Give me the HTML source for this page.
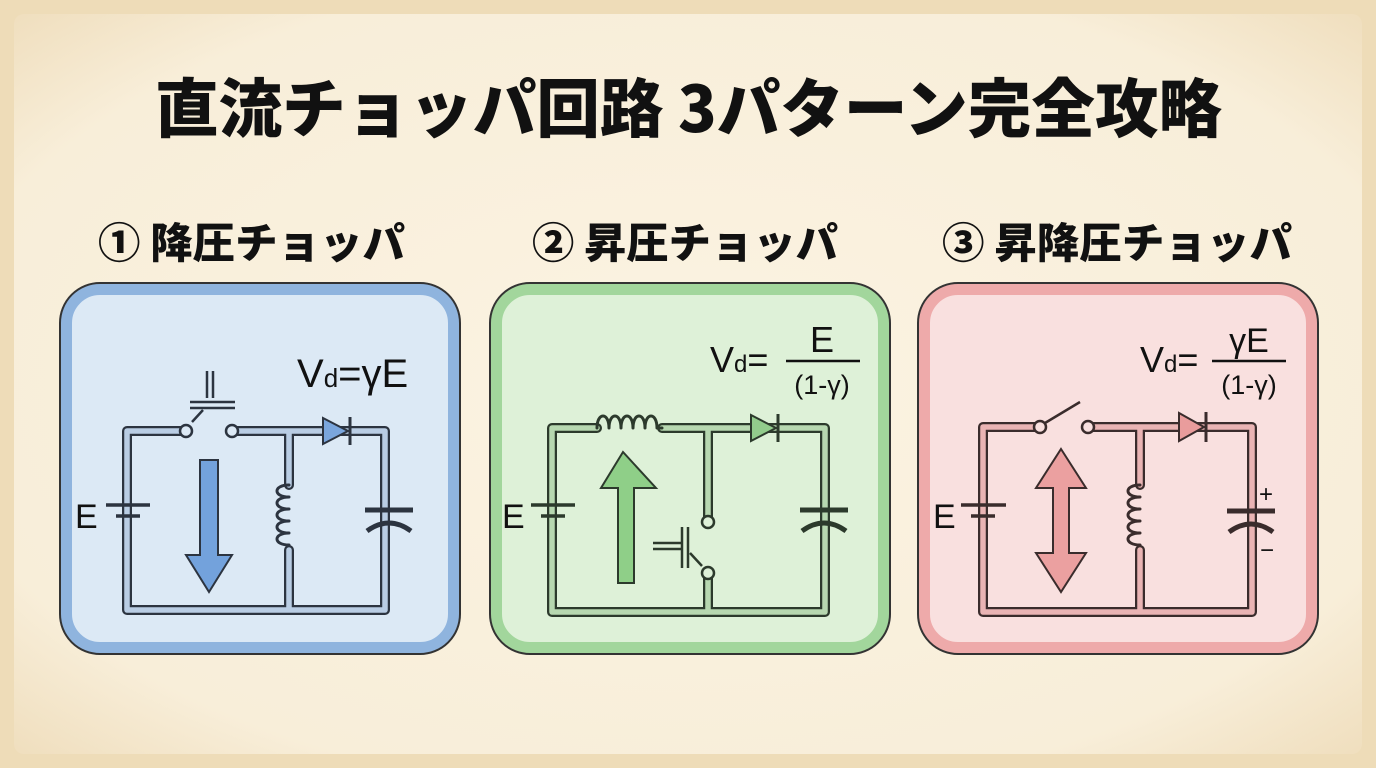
<!DOCTYPE html>
<html><head><meta charset="utf-8"><style>
html,body{margin:0;padding:0;width:1376px;height:768px;overflow:hidden;background:#f1e2c4}
svg{display:block}
text{font-family:"Liberation Sans","Noto Sans CJK JP",sans-serif}
.jp{font-family:"Noto Sans CJK JP","Liberation Sans",sans-serif;font-weight:900}
.f{font-family:"Liberation Sans","DejaVu Sans",sans-serif;fill:#111}
</style></head><body>
<svg width="1376" height="768" viewBox="0 0 1376 768">
<defs>
<radialGradient id="bg" cx="50%" cy="50%" r="70%">
<stop offset="0" stop-color="#fbf3e2"/><stop offset="0.8" stop-color="#f8eed9"/><stop offset="1" stop-color="#f0dfbf"/>
</radialGradient>
</defs>
<rect width="1376" height="768" fill="#eedcb8"/>
<rect x="14" y="14" width="1348" height="740" rx="10" fill="url(#bg)"/>

<text class="jp" x="155" y="132" font-size="64" textLength="1067" lengthAdjust="spacingAndGlyphs" fill="#111">直流チョッパ回路 3パターン完全攻略</text>
<text class="jp" x="98" y="258" font-size="42" textLength="307" lengthAdjust="spacingAndGlyphs" fill="#111">① 降圧チョッパ</text>
<text class="jp" x="532" y="258" font-size="42" textLength="306" lengthAdjust="spacingAndGlyphs" fill="#111">② 昇圧チョッパ</text>
<text class="jp" x="942" y="258" font-size="42" textLength="350" lengthAdjust="spacingAndGlyphs" fill="#111">③ 昇降圧チョッパ</text>

<!-- Panels -->
<rect x="66" y="289" width="388" height="359" rx="34" fill="#dce9f5" stroke="#8fb4de" stroke-width="12"/>
<rect x="60" y="283" width="400" height="371" rx="40" fill="none" stroke="#333" stroke-width="2"/>
<rect x="496" y="289" width="388" height="359" rx="34" fill="#def1d8" stroke="#a2d69c" stroke-width="12"/>
<rect x="490" y="283" width="400" height="371" rx="40" fill="none" stroke="#333" stroke-width="2"/>
<rect x="924" y="289" width="388" height="359" rx="34" fill="#f9e0df" stroke="#eeaaaa" stroke-width="12"/>
<rect x="918" y="283" width="400" height="371" rx="40" fill="none" stroke="#333" stroke-width="2"/>

<!-- Panel 1 circuit -->
<g fill="none" stroke-linejoin="round" stroke-linecap="round">
 <path d="M183,431 L127,431 L127,610 L385,610 L385,431 L232,431 M289,431 L289,485 M289,550 L289,610" stroke="#2c3440" stroke-width="10"/>
 <path d="M183,431 L127,431 L127,610 L385,610 L385,431 L232,431 M289,431 L289,485 M289,550 L289,610" stroke="#b9cde4" stroke-width="5.5"/>
 <path d="M289,485 c-16,0 -16,12 0,12 c-16,0 -16,12 0,12 c-16,0 -16,12 0,12 c-16,0 -16,12 0,12 c-16,0 -16,12 0,12" stroke="#2c3440" stroke-width="3"/>
</g>
<circle cx="186" cy="431" r="6" fill="#dce9f5" stroke="#2c3440" stroke-width="2.5"/>
<circle cx="232" cy="431" r="6" fill="#dce9f5" stroke="#2c3440" stroke-width="2.5"/>
<g stroke="#2c3440" stroke-width="2.5" fill="none">
 <line x1="190" y1="402" x2="235" y2="402"/><line x1="190" y1="408" x2="235" y2="408"/>
 <line x1="207" y1="371" x2="207" y2="398"/><line x1="213" y1="371" x2="213" y2="398"/>
 <line x1="192" y1="422" x2="203" y2="410"/>
 <line x1="106" y1="505" x2="150" y2="505" stroke-width="3.5"/><line x1="116" y1="516" x2="140" y2="516" stroke-width="3.5"/>
 <line x1="365" y1="510" x2="413" y2="510" stroke-width="5"/><path d="M367,531 Q389,515 411,531" stroke-width="5"/>
</g>
<polygon points="323,418 323,444 348,431" fill="#7aa6dd" stroke="#2c3440" stroke-width="2"/>
<line x1="350" y1="417" x2="350" y2="445" stroke="#2c3440" stroke-width="3"/>
<polygon points="200,460 218,460 218,555 232,555 209,592 186,555 200,555" fill="#73a2dc" stroke="#2c3440" stroke-width="2"/>
<text class="f" x="75" y="528" font-size="34">E</text>
<text class="f" x="297" y="387" font-size="40">V<tspan font-size="26">d</tspan>=γE</text>

<!-- Panel 2 circuit -->
<g fill="none" stroke-linejoin="round" stroke-linecap="round">
 <path d="M597,428 L552,428 L552,612 L825,612 L825,428 L662,428 M708,428 L708,518 M708,577 L708,612" stroke="#2c3a2c" stroke-width="10"/>
 <path d="M597,428 L552,428 L552,612 L825,612 L825,428 L662,428 M708,428 L708,518 M708,577 L708,612" stroke="#b7d8b0" stroke-width="5.5"/>
 <path d="M597,428 c0,-16 12,-16 12,0 c0,-16 12,-16 12,0 c0,-16 12,-16 12,0 c0,-16 12,-16 12,0 c0,-16 12,-16 12,0 l5,0" stroke="#2c3a2c" stroke-width="3"/>
</g>
<circle cx="708" cy="522" r="6" fill="#def1d8" stroke="#2c3a2c" stroke-width="2.5"/>
<circle cx="708" cy="573" r="6" fill="#def1d8" stroke="#2c3a2c" stroke-width="2.5"/>
<g stroke="#2c3a2c" stroke-width="2.5" fill="none">
 <line x1="653" y1="543" x2="682" y2="543"/><line x1="653" y1="549" x2="682" y2="549"/>
 <line x1="682" y1="527" x2="682" y2="568"/><line x1="688" y1="527" x2="688" y2="568"/>
 <line x1="690" y1="553" x2="702" y2="566"/>
 <line x1="531" y1="505" x2="575" y2="505" stroke-width="3.5"/><line x1="541" y1="516" x2="565" y2="516" stroke-width="3.5"/>
 <line x1="800" y1="510" x2="848" y2="510" stroke-width="5"/><path d="M802,531 Q824,515 846,531" stroke-width="5"/>
</g>
<polygon points="751,415 751,441 776,428" fill="#92cc8c" stroke="#2c3a2c" stroke-width="2"/>
<line x1="778" y1="414" x2="778" y2="442" stroke="#2c3a2c" stroke-width="3"/>
<polygon points="618,583 634,583 634,488 656,488 623,452 601,488 618,488" fill="#8fcf88" stroke="#2c3a2c" stroke-width="2"/>
<text class="f" x="502" y="528" font-size="34">E</text>
<text class="f" x="710" y="372" font-size="36">V<tspan font-size="24">d</tspan>=</text>
<line x1="786" y1="361" x2="860" y2="361" stroke="#111" stroke-width="2.5"/>
<text class="f" x="822" y="352" font-size="36" text-anchor="middle">E</text>
<text class="f" x="822" y="394" font-size="27" text-anchor="middle">(1-γ)</text>

<!-- Panel 3 circuit -->
<g fill="none" stroke-linejoin="round" stroke-linecap="round">
 <path d="M1039,427 L983,427 L983,612 L1252,612 L1252,427 L1091,427 M1140,427 L1140,485 M1140,550 L1140,612" stroke="#3a2c2c" stroke-width="10"/>
 <path d="M1039,427 L983,427 L983,612 L1252,612 L1252,427 L1091,427 M1140,427 L1140,485 M1140,550 L1140,612" stroke="#eab4b4" stroke-width="5.5"/>
 <path d="M1140,485 c-16,0 -16,12 0,12 c-16,0 -16,12 0,12 c-16,0 -16,12 0,12 c-16,0 -16,12 0,12 c-16,0 -16,12 0,12" stroke="#3a2c2c" stroke-width="3"/>
</g>
<circle cx="1040" cy="427" r="6" fill="#f9e0df" stroke="#3a2c2c" stroke-width="2.5"/>
<circle cx="1088" cy="427" r="6" fill="#f9e0df" stroke="#3a2c2c" stroke-width="2.5"/>
<g stroke="#3a2c2c" stroke-width="2.5" fill="none">
 <line x1="1045" y1="423" x2="1080" y2="402"/>
 <line x1="961" y1="505" x2="1006" y2="505" stroke-width="3.5"/><line x1="971" y1="516" x2="995" y2="516" stroke-width="3.5"/>
 <line x1="1227" y1="511" x2="1275" y2="511" stroke-width="5"/><path d="M1229,532 Q1251,516 1273,532" stroke-width="5"/>
</g>
<polygon points="1179,413 1179,441 1204,427" fill="#e99c9c" stroke="#3a2c2c" stroke-width="2"/>
<line x1="1206" y1="412" x2="1206" y2="442" stroke="#3a2c2c" stroke-width="3"/>
<polygon points="1061,449 1086,488 1069,488 1069,553 1086,553 1061,592 1036,553 1053,553 1053,488 1036,488" fill="#eba0a0" stroke="#3a2c2c" stroke-width="2"/>
<text class="f" x="1259" y="502" font-size="24">+</text>
<text class="f" x="1260" y="558" font-size="24">−</text>
<text class="f" x="933" y="528" font-size="34">E</text>
<text class="f" x="1140" y="372" font-size="36">V<tspan font-size="24">d</tspan>=</text>
<line x1="1212" y1="361" x2="1286" y2="361" stroke="#111" stroke-width="2.5"/>
<text class="f" x="1249" y="352" font-size="34" text-anchor="middle">γE</text>
<text class="f" x="1249" y="394" font-size="27" text-anchor="middle">(1-γ)</text>
</svg>
</body></html>
